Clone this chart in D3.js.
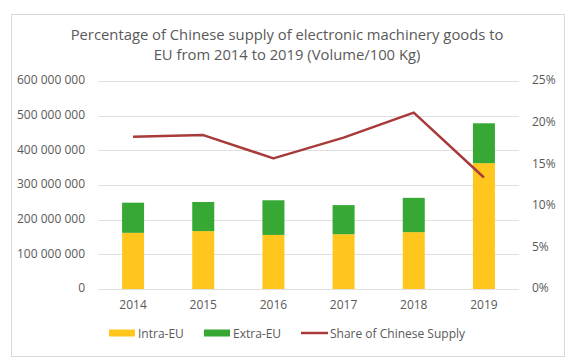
<!DOCTYPE html>
<html>
<head>
<meta charset="utf-8">
<script src="https://cdn.jsdelivr.net/npm/d3@7"></script>
<style>
  body { margin: 0; background: #fff; }
  text { font-family: "Open Sans", sans-serif; fill: #595959; }
</style>
</head>
<body>
<svg id="chart" width="580" height="363"></svg>
<script>
var years = ["2014", "2015", "2016", "2017", "2018", "2019"];
var intraEU = [162e6, 167e6, 156e6, 158e6, 164e6, 363e6];
var extraEU = [87e6, 84e6, 100e6, 84e6, 99e6, 115e6];
var share = [0.183, 0.185, 0.157, 0.182, 0.212, 0.134];
var leftTicks = [0, 1e8, 2e8, 3e8, 4e8, 5e8, 6e8];
var rightTicks = [0, 0.05, 0.10, 0.15, 0.20, 0.25];

var colors = { intra: "#FFC61E", extra: "#36A833", line: "#A83A3A" };

var svg = d3.select("#chart");

// outer frame
svg.append("rect")
    .attr("x", 11.5).attr("y", 14.5)
    .attr("width", 553).attr("height", 342)
    .attr("fill", "#fff")
    .attr("stroke", "#d9d9d9");

// title
var title = svg.append("text")
    .attr("text-anchor", "middle")
    .style("font-size", "14.8px");
title.append("tspan").attr("x", 287).attr("y", 40)
    .text("Percentage of Chinese supply of electronic machinery goods to");
title.append("tspan").attr("x", 287).attr("y", 60)
    .text("EU from 2014 to 2019 (Volume/100 Kg)");

var x = d3.scaleBand().domain(years).range([98, 519]);
var y = d3.scaleLinear().domain([0, 6e8]).range([289, 81]);
var y2 = d3.scaleLinear().domain([0, 0.25]).range([289, 81]);

// gridlines
svg.append("g").selectAll("line")
    .data(leftTicks)
    .enter().append("line")
    .attr("x1", 98).attr("x2", 519)
    .attr("y1", function(d) { return Math.round(y(d)) + 0.5; })
    .attr("y2", function(d) { return Math.round(y(d)) + 0.5; })
    .attr("stroke", "#e0e0e0");

var fmt = function(d) {
    return d3.format(",")(d).replace(/,/g, " ");
};

var yAxis = d3.axisLeft(y).tickValues(leftTicks).tickFormat(fmt).tickSize(0).tickPadding(13);
var gy = svg.append("g").attr("transform", "translate(98,-1)").call(yAxis);
gy.select(".domain").remove();
gy.selectAll("text").style("font-size", "12px").style("fill", "#595959");

var y2Axis = d3.axisRight(y2).tickValues(rightTicks).tickFormat(d3.format(".0%")).tickSize(0).tickPadding(13);
var gy2 = svg.append("g").attr("transform", "translate(519,-1)").call(y2Axis);
gy2.select(".domain").remove();
gy2.selectAll("text").style("font-size", "12px").style("fill", "#595959");

var xAxis = d3.axisBottom(x).tickSize(0).tickPadding(11);
var gx = svg.append("g").attr("transform", "translate(0,289)").call(xAxis);
gx.select(".domain").remove();
gx.selectAll("text").style("font-size", "12px").style("fill", "#595959");

var barW = 22;

svg.append("g").selectAll("rect")
    .data(years)
    .enter().append("rect")
    .attr("x", function(d) { return x(d) + x.bandwidth() / 2 - barW / 2; })
    .attr("y", function(d, i) { return y(intraEU[i]); })
    .attr("width", barW)
    .attr("height", function(d, i) { return y(0) - y(intraEU[i]); })
    .attr("fill", colors.intra);

svg.append("g").selectAll("rect")
    .data(years)
    .enter().append("rect")
    .attr("x", function(d) { return x(d) + x.bandwidth() / 2 - barW / 2; })
    .attr("y", function(d, i) { return y(intraEU[i] + extraEU[i]); })
    .attr("width", barW)
    .attr("height", function(d, i) { return y(intraEU[i]) - y(intraEU[i] + extraEU[i]); })
    .attr("fill", colors.extra);

var line = d3.line()
    .x(function(d, i) { return x(years[i]) + x.bandwidth() / 2; })
    .y(function(d) { return y2(d); });

svg.append("path")
    .datum(share)
    .attr("d", line)
    .attr("fill", "none")
    .attr("stroke", colors.line)
    .attr("stroke-width", 2.5)
    .attr("stroke-linejoin", "round");

// legend
var legend = svg.append("g").attr("transform", "translate(0,333)");
legend.append("rect").attr("x", 109).attr("y", -3.5).attr("width", 26).attr("height", 7).attr("fill", colors.intra);
legend.append("text").attr("x", 138).attr("y", 4.5).style("font-size", "12px").text("Intra-EU");
legend.append("rect").attr("x", 204).attr("y", -3.5).attr("width", 26).attr("height", 7).attr("fill", colors.extra);
legend.append("text").attr("x", 233).attr("y", 4.5).style("font-size", "12px").text("Extra-EU");
legend.append("line").attr("x1", 301).attr("x2", 328).attr("y1", 0).attr("y2", 0)
    .attr("stroke", colors.line).attr("stroke-width", 2.5);
legend.append("text").attr("x", 330).attr("y", 4.5).style("font-size", "12px").text("Share of Chinese Supply");
</script>
</body>
</html>
